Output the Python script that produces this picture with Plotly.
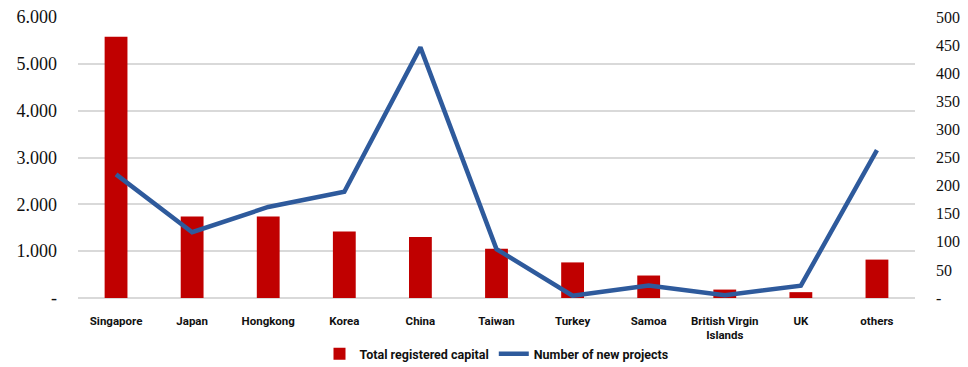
import plotly.graph_objects as go

categories = ["Singapore", "Japan", "Hongkong", "Korea", "China", "Taiwan",
              "Turkey", "Samoa", "British Virgin<br>Islands", "UK", "others"]
capital = [5580, 1740, 1740, 1420, 1300, 1050, 760, 480, 180, 125, 820]
projects = [220, 117, 162, 189, 446, 87, 4, 22, 5, 22, 263]

left_ticks = [0, 1000, 2000, 3000, 4000, 5000, 6000]
left_text = ["-", "1.000", "2.000", "3.000", "4.000", "5.000", "6.000"]
right_ticks = list(range(0, 501, 50))
right_text = ["-"] + [str(v) for v in right_ticks[1:]]

fig = go.Figure()
fig.add_trace(go.Bar(x=categories, y=capital, name="Total registered capital",
                     marker=dict(color="#C00000", line=dict(width=0)), width=0.3))
fig.add_trace(go.Scatter(x=categories, y=projects, name="Number of new projects",
                         mode="lines", line=dict(color="#2E5A9C", width=4.5),
                         yaxis="y2"))

fig.update_layout(
    width=968, height=367,
    margin=dict(l=78, r=53, t=17, b=69, autoexpand=False),
    plot_bgcolor="white", paper_bgcolor="white",
    showlegend=True,
    legend=dict(orientation="h", x=0.5, xanchor="center", y=-0.2, yanchor="middle",
                font=dict(family="Roboto", size=12.5, color="#111", weight="bold"),
                itemwidth=30, tracegroupgap=0),
    xaxis=dict(tickfont=dict(family="Roboto", size=11.5, color="#111", weight="bold"),
               showgrid=False, showline=False, ticks="", ticklabelstandoff=14,
               automargin=False),
    yaxis=dict(range=[0, 6000], tickvals=left_ticks, ticktext=left_text,
               tickfont=dict(family="Liberation Serif", size=18, color="#111"),
               showgrid=True, gridcolor="#D9D9D9", gridwidth=1.5,
               zeroline=True, zerolinecolor="#D9D9D9", zerolinewidth=1.5,
               showline=False, ticks="", ticklabelstandoff=20, automargin=False),
    yaxis2=dict(range=[0, 500], tickvals=right_ticks, ticktext=right_text,
                overlaying="y", side="right",
                tickfont=dict(family="Liberation Serif", size=16, color="#111"),
                showgrid=False, zeroline=False, showline=False, ticks="",
                ticklabelstandoff=20, automargin=False),
    bargap=0.7,
)

fig.write_html("out.html")
